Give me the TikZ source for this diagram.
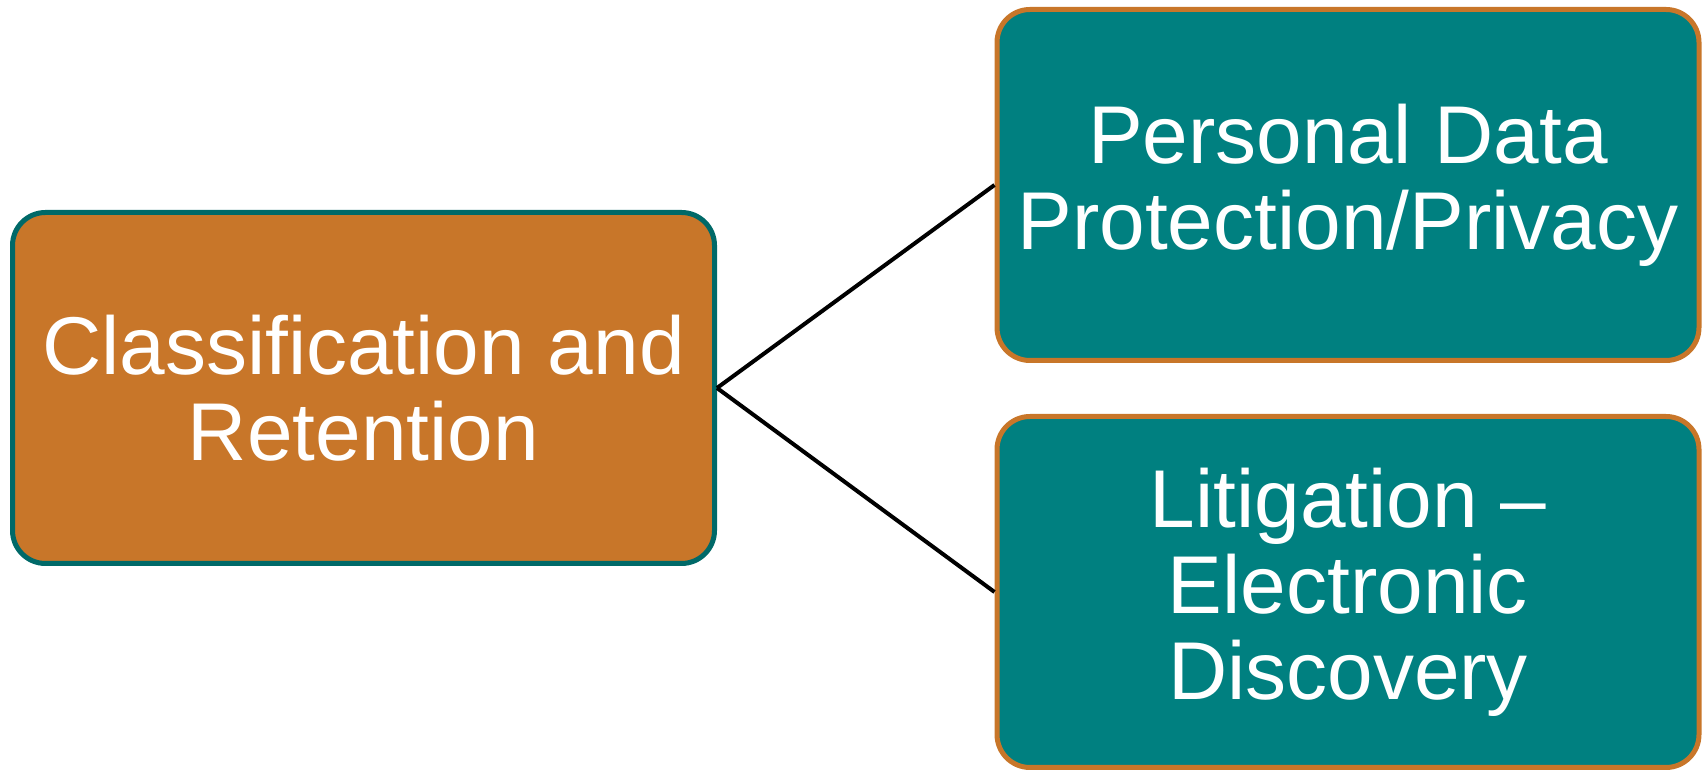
\documentclass[tikz,border=0pt]{standalone}
\usepackage{fontspec}
\setmainfont{Liberation Sans}
\usetikzlibrary{positioning}
\definecolor{ochre}{RGB}{200,118,41}
\definecolor{tealfill}{RGB}{0,128,128}
\definecolor{tealedge}{RGB}{0,105,104}
\tikzset{
	topic/.style={rounded corners=33pt, line width=5pt, minimum width=702pt, minimum height=351pt,
		inner sep=0pt, align=center, text=white, font=\fontsize{82}{86}\selectfont},
	mainbox/.style={topic, draw=tealedge, fill=ochre},
	subbox/.style={topic, draw=ochre, fill=tealfill},
	link/.style={line width=4pt, black}
}

\begin{document}
\begin{tikzpicture}[x=1pt, y=1pt]
		%%%%% START %%%%%
		\useasboundingbox (0, 0) rectangle (1705, 770);
		
		\node[mainbox] (retention) at (363.5, 382) {Classification and\\Retention};
		\node[subbox] (privacy) at (1348, 585) {Personal Data\\Protection/Privacy};
		\node[subbox] (discovery) at (1348, 178) {Litigation –\\Electronic\\Discovery};
		
		\draw[link] (retention.east) -- (privacy.west);
		\draw[link] (retention.east) -- (discovery.west);
		%%%%% END %%%%%
	\end{tikzpicture}
\end{document}
